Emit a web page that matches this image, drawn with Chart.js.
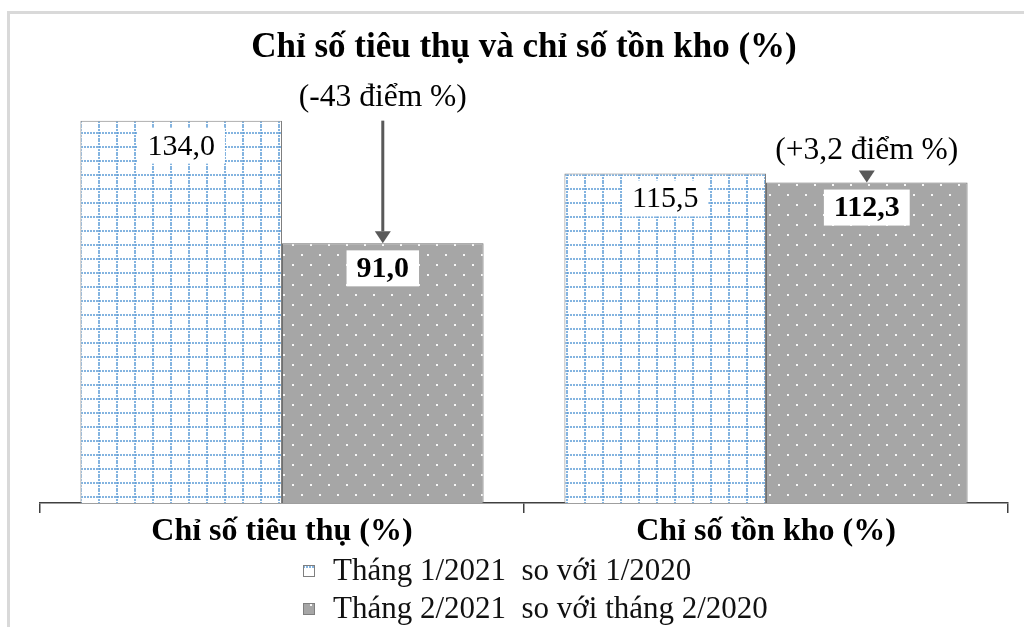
<!DOCTYPE html>
<html lang="vi">
<head>
<meta charset="utf-8">
<title>Chỉ số tiêu thụ và chỉ số tồn kho (%)</title>
<script src="https://cdn.jsdelivr.net/npm/chart.js@4.4.1/dist/chart.umd.min.js"></script>
<style>
  html, body { margin: 0; padding: 0; background: #ffffff; }
  #wrap { width: 1024px; height: 627px; }
</style>
</head>
<body>
<div id="wrap"><canvas id="chart" width="1024" height="627"></canvas></div>
<script>
// ---- data ----
const categories = ['Chỉ số tiêu thụ (%)', 'Chỉ số tồn kho (%)'];
const seriesLabels = ['Tháng 1/2021  so với 1/2020', 'Tháng 2/2021  so với tháng 2/2020'];
const janValues = [134.0, 115.5];
const febValues = [91.0, 112.3];
const changeLabels = ['(-43 điểm %)', '(+3,2 điểm %)'];
const chartTitle = 'Chỉ số tiêu thụ và chỉ số tồn kho (%)';

const SERIF = "'Liberation Serif', 'Times New Roman', serif";

// ---- fill patterns ----
function gridPattern() {
  const c = document.createElement('canvas');
  c.width = 18; c.height = 14;
  const g = c.getContext('2d');
  g.fillStyle = '#ffffff';
  g.fillRect(0, 0, 18, 14);
  g.fillStyle = 'rgba(91,155,213,0.75)';
  for (let x = 0; x < 18; x += 3) g.fillRect(x, 6, 2, 2);
  for (let y = 0; y < 14; y += 3) g.fillRect(8, y, 2, 2);
  const ctx = document.getElementById('chart').getContext('2d');
  return ctx.createPattern(c, 'repeat');
}
function dotPattern() {
  const c = document.createElement('canvas');
  c.width = 18; c.height = 20;
  const g = c.getContext('2d');
  g.fillStyle = '#a6a6a6';
  g.fillRect(0, 0, 18, 20);
  g.fillStyle = '#f7f7f7';
  g.fillRect(4, 4, 2, 2);
  g.fillRect(13, 14, 2, 2);
  const ctx = document.getElementById('chart').getContext('2d');
  return ctx.createPattern(c, 'repeat');
}
const janFill = gridPattern();
const febFill = dotPattern();

const fmt = v => v.toFixed(1).replace('.', ',');

// ---- light frame around the figure ----
const framePlugin = {
  id: 'frame',
  beforeDraw(chart) {
    const ctx = chart.ctx;
    ctx.save();
    ctx.fillStyle = '#d9d9d9';
    ctx.fillRect(7, 11, chart.width - 7, 3);
    ctx.fillRect(7, 11, 3, chart.height - 11);
    ctx.restore();
  }
};

// ---- value boxes on the bars ----
const valueLabelPlugin = {
  id: 'valueLabels',
  afterDatasetsDraw(chart) {
    const ctx = chart.ctx;
    ctx.save();
    chart.data.datasets.forEach((ds, di) => {
      const meta = chart.getDatasetMeta(di);
      meta.data.forEach((bar, i) => {
        const text = fmt(ds.data[i]);
        ctx.font = (di === 1 ? 'bold ' : '') + '30px ' + SERIF;
        const w = ctx.measureText(text).width;
        const cy = bar.y + 25;
        ctx.fillStyle = '#ffffff';
        ctx.fillRect(bar.x - w / 2 - 10, cy - 18, w + 20, 36);
        ctx.fillStyle = '#000000';
        ctx.textAlign = 'center';
        ctx.textBaseline = 'middle';
        ctx.fillText(text, bar.x, cy + 1);
      });
    });
    ctx.restore();
  }
};

// ---- change arrows between the two months ----
const arrowPlugin = {
  id: 'changeArrows',
  afterDatasetsDraw(chart) {
    const ctx = chart.ctx;
    const yScale = chart.scales.y;
    const febMeta = chart.getDatasetMeta(1);
    ctx.save();
    categories.forEach((_, i) => {
      const bar = febMeta.data[i];
      const x = bar.x;
      const yStart = yScale.getPixelForValue(janValues[i]);
      const yEnd = yScale.getPixelForValue(febValues[i]);
      const top = Math.min(yStart, yEnd);
      ctx.strokeStyle = '#595959';
      ctx.fillStyle = '#595959';
      ctx.lineWidth = 3;
      const head = 12;
      if (yEnd - yStart > head + 2) {
        ctx.beginPath();
        ctx.moveTo(x, yStart);
        ctx.lineTo(x, yEnd - head);
        ctx.stroke();
      }
      ctx.beginPath();
      ctx.moveTo(x - 8, yEnd - head);
      ctx.lineTo(x + 8, yEnd - head);
      ctx.lineTo(x, yEnd);
      ctx.closePath();
      ctx.fill();
      ctx.fillStyle = '#000000';
      ctx.font = '31.5px ' + SERIF;
      ctx.textAlign = 'center';
      ctx.textBaseline = 'middle';
      ctx.fillText(changeLabels[i], x, top - 23);
    });
    ctx.restore();
  }
};

// ---- stacked legend below the axis ----
const legendPlugin = {
  id: 'stackedLegend',
  afterDraw(chart) {
    const ctx = chart.ctx;
    ctx.save();
    const rows = [571, 609];
    chart.data.datasets.forEach((ds, i) => {
      const y = rows[i];
      ctx.fillStyle = ds.backgroundColor;
      ctx.fillRect(303, y - 6, 12, 12);
      ctx.strokeStyle = '#7f7f7f';
      ctx.lineWidth = 1;
      ctx.strokeRect(303.5, y - 5.5, 11, 11);
      ctx.fillStyle = '#111111';
      ctx.font = '31px ' + SERIF;
      ctx.textAlign = 'left';
      ctx.textBaseline = 'middle';
      ctx.fillText(ds.label, 333, y + 1);
    });
    ctx.restore();
  }
};

new Chart(document.getElementById('chart'), {
  type: 'bar',
  data: {
    labels: categories,
    datasets: [
      {
        label: seriesLabels[0],
        data: janValues,
        backgroundColor: janFill,
        borderColor: '#7f7f7f',
        borderWidth: 1,
        categoryPercentage: 0.833,
        barPercentage: 1.0
      },
      {
        label: seriesLabels[1],
        data: febValues,
        backgroundColor: febFill,
        borderColor: '#6f6f6f',
        borderWidth: 1,
        categoryPercentage: 0.833,
        barPercentage: 1.0
      }
    ]
  },
  options: {
    responsive: false,
    animation: false,
    layout: { padding: { left: 40, right: 16, top: 0, bottom: 74 } },
    plugins: {
      legend: { display: false },
      tooltip: { enabled: false },
      title: {
        display: true,
        text: chartTitle,
        color: '#000000',
        font: { family: SERIF, size: 35, weight: 'bold', lineHeight: 1.2 },
        padding: { top: 27, bottom: 6 }
      }
    },
    scales: {
      x: {
        offset: true,
        grid: {
          display: true,
          offset: true,
          drawOnChartArea: false,
          drawTicks: true,
          tickLength: 10,
          color: '#404040',
          lineWidth: 1.5
        },
        border: { display: true, color: '#404040', width: 1.5 },
        ticks: {
          color: '#000000',
          padding: 0,
          font: { family: SERIF, size: 32, weight: 'bold' },
          maxRotation: 0
        },
        afterFit(scale) { scale.height = 50; }
      },
      y: {
        display: false,
        min: 0,
        max: 150
      }
    }
  },
  plugins: [framePlugin, valueLabelPlugin, arrowPlugin, legendPlugin]
});
</script>
</body>
</html>
